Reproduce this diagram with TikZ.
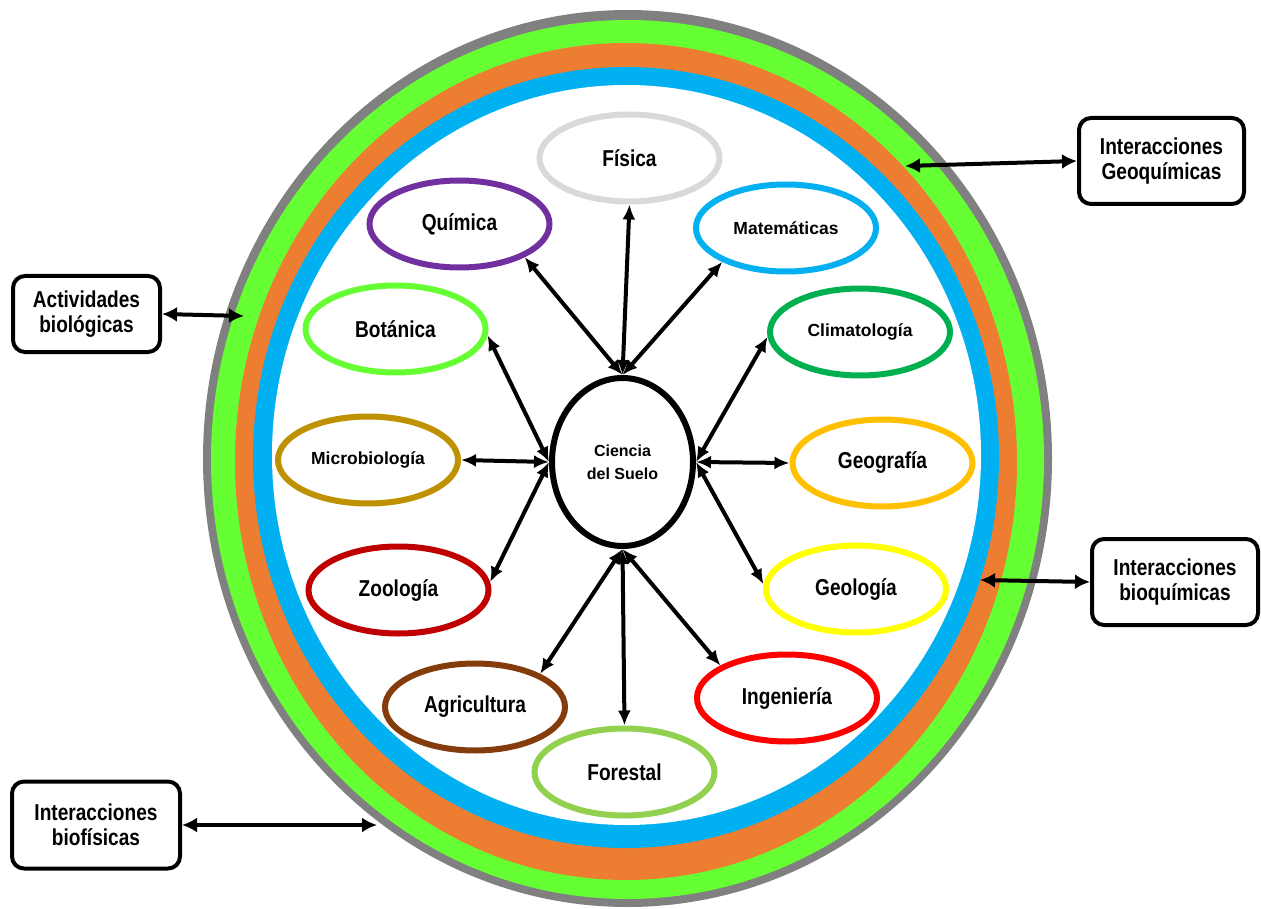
\documentclass[tikz,border=0pt]{standalone}
\usepackage{fontspec}
\setmainfont{Liberation Sans}
\newfontfamily\narrowsans{Liberation Sans}[FakeStretch=0.83]
\usetikzlibrary{shapes.geometric,arrows.meta}

% ring colours
\definecolor{ringgray}{HTML}{808080}
\definecolor{ringgreen}{HTML}{66FF33}
\definecolor{ringorange}{HTML}{ED7D31}
\definecolor{ringblue}{HTML}{00B0F0}
% discipline colours
\definecolor{cfis}{HTML}{D9D9D9}
\definecolor{cqui}{HTML}{7030A0}
\definecolor{cmat}{HTML}{00B0F0}
\definecolor{cbot}{HTML}{66FF33}
\definecolor{ccli}{HTML}{00B050}
\definecolor{cmic}{HTML}{BF9000}
\definecolor{cgeo}{HTML}{FFC000}
\definecolor{czoo}{HTML}{C00000}
\definecolor{cgel}{HTML}{FFFF00}
\definecolor{cagr}{HTML}{843C0C}
\definecolor{cing}{HTML}{FF0000}
\definecolor{cfor}{HTML}{92D050}

\begin{document}
\begin{tikzpicture}[x=1pt,y=-1pt,
  disc/.style={ellipse, draw=#1, line width=6pt, fill=white,
    minimum width=180pt, minimum height=87pt, inner sep=0pt},
  bigtext/.style={font=\narrowsans\bfseries\fontsize{23}{25}\selectfont},
  smalltext/.style={font=\bfseries\fontsize{17.5}{20}\selectfont},
  infobox/.style={draw, line width=4pt, rounded corners=12pt, fill=white,
    align=center, inner sep=0pt, font=\narrowsans\bfseries\fontsize{23}{25}\selectfont},
  link/.style={line width=4pt, {Latex[length=15pt,width=13pt]}-{Latex[length=15pt,width=13pt]}},
  outlink/.style={line width=4pt, {Latex[length=15pt,width=15pt]}-{Latex[length=15pt,width=15pt]}},
]
\useasboundingbox (0,0) rectangle (1261,909);

% concentric bands of the soil system
\fill[ringgray]   (627.5,458.5) ellipse [x radius=424.5, y radius=448.5];
\fill[ringgreen]  (627.5,459.5) ellipse [x radius=416.5, y radius=439.5];
\fill[ringorange] (626,461.5)   ellipse [x radius=391,   y radius=418.5];
\fill[ringblue]   (626,457.5)   ellipse [x radius=373,   y radius=390.5];
\fill[white]      (626.5,455)   ellipse [x radius=354.5, y radius=370];

% central node
\node[ellipse, draw, line width=6pt, fill=white, minimum width=141pt,
      minimum height=168pt, inner sep=0pt, align=center,
      font=\bfseries\fontsize{16}{23}\selectfont] (c) at (622.5,462) {Ciencia\\del Suelo};

% related disciplines
\node[disc=cfis, bigtext]   (fis) at (629.5,158) {Física};
\node[disc=cqui, bigtext]   (qui) at (459.5,224) {Química};
\node[disc=cmat, smalltext] (mat) at (786,228)   {Matemáticas};
\node[disc=cbot, bigtext]   (bot) at (395.5,329) {Botánica};
\node[disc=ccli, smalltext] (cli) at (860,332)   {Climatología};
\node[disc=cmic, smalltext] (mic) at (368,460)   {Microbiología};
\node[disc=cgeo, bigtext]   (geo) at (882.5,463) {Geografía};
\node[disc=czoo, bigtext]   (zoo) at (398.5,590) {Zoología};
\node[disc=cgel, bigtext]   (gel) at (856,589)   {Geología};
\node[disc=cagr, bigtext]   (agr) at (475,707)   {Agricultura};
\node[disc=cing, bigtext]   (ing) at (787,698)   {Ingeniería};
\node[disc=cfor, bigtext]   (for) at (624.5,772) {Forestal};

% links between the centre and each discipline
\draw[link] (c.north) -- (fis.south);
\draw[link] (c.north) -- (qui.-27);
\draw[link] (c.north) -- (mat.-152);
\draw[link] (c.west)  -- (bot.-4);
\draw[link] (c.west)  -- (mic.east);
\draw[link] (c.west)  -- (zoo.5);
\draw[link] (c.east)  -- (cli.183);
\draw[link] (c.east)  -- (geo.west);
\draw[link] (c.east)  -- (gel.177);
\draw[link] (c.south) -- (agr.27);
\draw[link] (c.south) -- (for.north);
\draw[link] (c.south) -- (ing.154);

% interaction boxes
\node[infobox, minimum width=147pt, minimum height=76pt] (ab) at (86.5,314)
  {Actividades\\biológicas};
\node[infobox, minimum width=165pt, minimum height=86pt] (gq) at (1161.5,161)
  {Interacciones\\Geoquímicas};
\node[infobox, minimum width=166pt, minimum height=86pt] (bq) at (1175,582)
  {Interacciones\\bioquímicas};
\node[infobox, minimum width=168pt, minimum height=87pt] (bf) at (96,825)
  {Interacciones\\biofísicas};

% contact points on the rings
\coordinate (abr) at (244,316);
\coordinate (gqr) at (905,166);
\coordinate (bqr) at (980,580);
\coordinate (bfr) at (377,825);

\draw[outlink] (ab.east) -- (abr);
\draw[outlink] (gqr) -- (gq.west);
\draw[outlink] (bqr) -- (bq.west);
\draw[outlink] (bf.east) -- (bfr);
\end{tikzpicture}
\end{document}
